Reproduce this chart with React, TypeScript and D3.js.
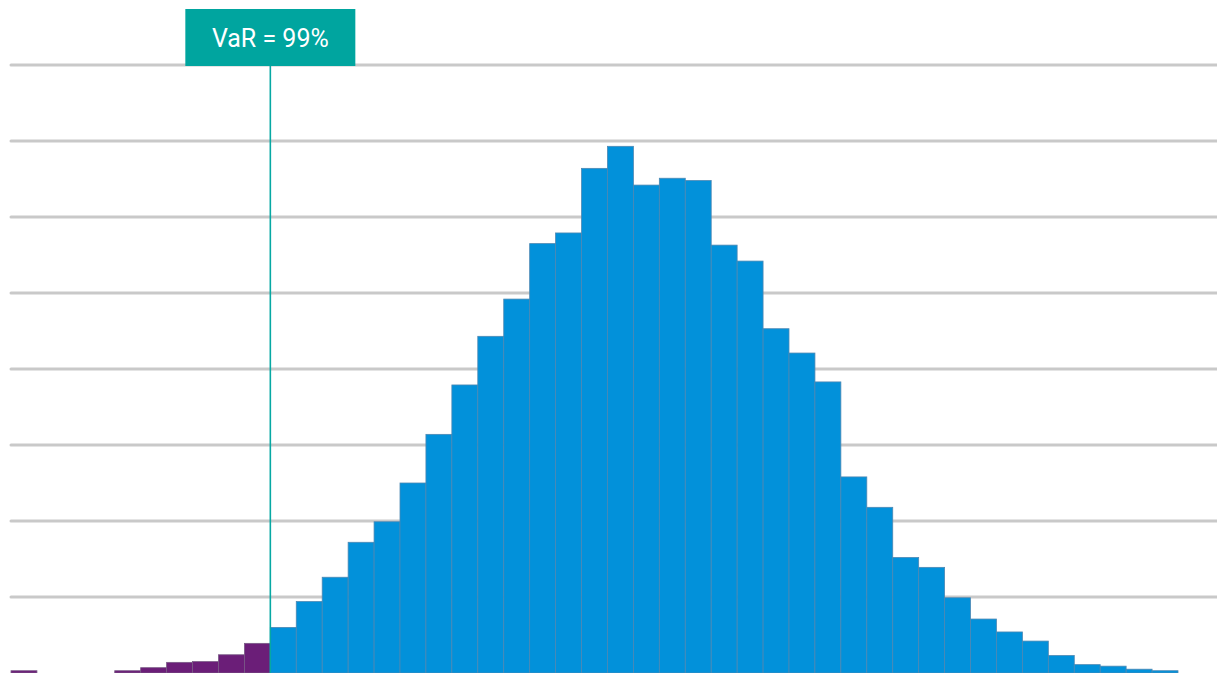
import React from "react";
import * as d3 from "d3";

// Histogram of simulated portfolio returns, one count per bin
const binIndex: number[] = d3.range(45);
const counts: number[] = [
  3, 0, 0, 0, 3, 7, 14, 15, 24, 39,
  60, 94, 126, 172, 199, 250, 314, 379, 443, 492,
  565, 579, 664, 693, 642, 651, 648, 563, 542, 453,
  421, 383, 258, 218, 152, 139, 99, 71, 54, 42,
  23, 11, 9, 5, 3,
];
// bins left of this index lie in the loss tail beyond the VaR cut-off
const varBin = 10;
const varLabel = "VaR = 99%";
const gridTicks: number[] = [100, 200, 300, 400, 500, 600, 700, 800];

const W = 1217;
const H = 673;

export default function App() {
  const x = d3.scaleBand<number>().domain(binIndex).range([11, 1178]).padding(0);
  const y = d3.scaleLinear().domain([0, 800]).range([673, 65]);
  const varX = x(varBin)!;

  return (
    <svg
      width={W}
      height={H}
      style={{ position: "absolute", left: 0, top: 0, display: "block", background: "#fff" }}
    >
      <g>
        {gridTicks.map((t) => (
          <line
            key={t}
            x1={11}
            x2={W + 2}
            y1={y(t)}
            y2={y(t)}
            stroke="#c9c9c9"
            strokeWidth={3}
            strokeLinecap="round"
          />
        ))}
      </g>
      <g>
        {counts.map((c, i) =>
          c > 0 ? (
            <rect
              key={i}
              x={x(i)!}
              y={y(c)}
              width={x.bandwidth()}
              height={y(0) - y(c)}
              fill={i < varBin ? "#6b1e78" : "#0291da"}
              stroke={i < varBin ? "#7a5a86" : "#4d88b3"}
              strokeWidth={0.8}
            />
          ) : null
        )}
      </g>
      <line x1={varX} x2={varX} y1={64} y2={H} stroke="#07a8a3" strokeWidth={1.6} />
      <rect x={varX - 85} y={9} width={170} height={57} fill="#00a59f" />
      <text
        x={varX}
        y={38}
        textAnchor="middle"
        dominantBaseline="central"
        fill="#ffffff"
        fontFamily="Roboto, 'Open Sans', sans-serif"
        fontSize={25}
      >
        {varLabel}
      </text>
    </svg>
  );
}
